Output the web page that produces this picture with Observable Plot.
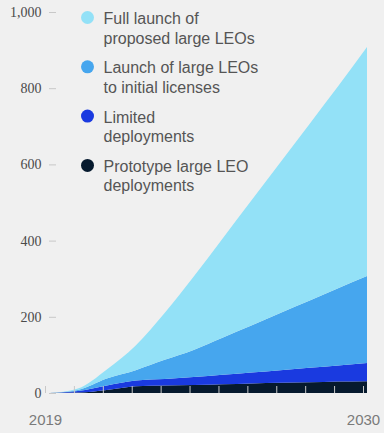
<!DOCTYPE html>
<html>
<head>
<meta charset="utf-8">
<script src="https://cdn.jsdelivr.net/npm/d3@7"></script>
<script src="https://cdn.jsdelivr.net/npm/@observablehq/plot@0.6"></script>
<style>
  html, body { margin: 0; padding: 0; background: #f0f0f0; }
</style>
</head>
<body>
<div id="chart"></div>
<script>
const years = [2019, 2020, 2021, 2022, 2023, 2024, 2025, 2026, 2027, 2028, 2029, 2030];
const prototypeLEO = [0, 1, 8, 18, 20, 21, 23, 25, 27, 28, 30, 31];
const limitedDeployments = [0, 4, 12, 15, 17, 21, 25, 29, 33, 38, 42, 48];
const launchInitial = [0, 3, 18, 27, 50, 71, 97, 123, 150, 176, 203, 228];
const fullLaunch = [0, 4, 24, 65, 123, 192, 260, 328, 395, 463, 530, 601];

const seriesNames = ["Prototype large LEO deployments", "Limited deployments", "Launch of large LEOs to initial licenses", "Full launch of proposed large LEOs"];
const seriesValues = [prototypeLEO, limitedDeployments, launchInitial, fullLaunch];
const seriesColors = ["#061a2e", "#1a3ae0", "#46a6ee", "#93e1f7"];
const legendLabels = ["Full launch of\nproposed large LEOs", "Launch of large LEOs\nto initial licenses", "Limited\ndeployments", "Prototype large LEO\ndeployments"];
const legendColors = ["#93e1f7", "#46a6ee", "#1a3ae0", "#061a2e"];
const yTicks = [0, 200, 400, 600, 800, 1000];
const xLabelYears = [2019, 2030];

const rows = [];
seriesNames.forEach((name, s) => {
  years.forEach((year, i) => rows.push({ year, series: name, value: seriesValues[s][i] }));
});

const legendMarks = legendLabels.flatMap((label, i) => [
  Plot.dot([label], { frameAnchor: "top-left", dx: 38, dy: 5 + i * 49.3, r: 6.5, fill: legendColors[i], stroke: null }),
  Plot.text([label], { frameAnchor: "top-left", dx: 54, dy: 15 + i * 49.3, text: d => d, textAnchor: "start", lineAnchor: "middle", lineHeight: 1.22, fontSize: 16, fill: "#555", fontFamily: "Liberation Sans, Arial, sans-serif" })
]);

const chart = Plot.plot({
  width: 384,
  height: 433,
  marginLeft: 49,
  marginRight: 17,
  marginTop: 12,
  marginBottom: 40,
  style: { background: "#f0f0f0", fontFamily: "Liberation Sans, Arial, sans-serif" },
  x: { domain: [2019, 2030], label: null },
  y: { domain: [0, 1000], label: null },
  color: { domain: seriesNames, range: seriesColors },
  marks: [
    Plot.areaY(rows, { x: "year", y: "value", fill: "series", order: seriesNames, curve: "monotone-x" }),
    Plot.axisX({ ticks: years, label: null, tickSize: -7, tickPadding: 28, tickFormat: d => xLabelYears.includes(d) ? String(d) : "", stroke: "#c8c8c8", fill: "#7a7a7a", fontSize: 15, dx: -4 }),
    Plot.axisY({ ticks: yTicks, label: null, tickSize: -7, tickPadding: 15, tickFormat: d3.format(","), stroke: "#c8c8c8", fill: "#4a4a4a", fontSize: 14, fontFamily: "Liberation Serif, DejaVu Serif, serif" }),
    ...legendMarks
  ]
});
document.getElementById("chart").appendChild(chart);
</script>
</body>
</html>
